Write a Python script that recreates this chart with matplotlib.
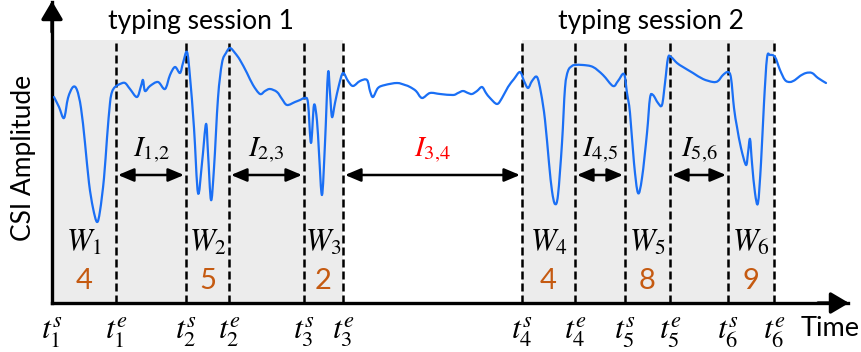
import matplotlib
matplotlib.use("Agg")
import matplotlib.pyplot as plt
import numpy as np
from matplotlib.path import Path
from matplotlib.patches import PathPatch

plt.rcParams['font.family'] = ['Lato', 'DejaVu Sans']
plt.rcParams['mathtext.fontset'] = 'stix'

# ---- data (time in arbitrary units, amplitude in arbitrary units) ----
sig_t = [54, 59, 64, 68, 73, 77, 81, 85, 89, 93, 97, 100, 104, 107, 110, 112, 115, 120, 125, 130, 137,
         141, 143, 145, 150, 158, 165, 170, 175, 180, 183, 187, 190, 194, 198, 202, 206, 208, 211, 214, 218,
         222, 226, 230, 235, 240, 247, 253, 260, 265, 270, 277, 282, 287, 295, 300, 305, 308, 311, 314, 317,
         319, 322, 325, 328, 330, 332, 335, 339, 343, 348, 353, 360, 367, 370, 373, 378, 385, 397, 405, 410,
         416, 422, 430, 440, 453, 458, 463, 468, 472, 477, 482, 486, 490, 497, 502, 508, 514, 520, 524, 528,
         532, 537, 541, 545, 549, 552, 555, 558, 562, 565, 568, 572, 575, 583, 593, 603, 613, 618, 624, 627,
         630, 634, 638, 642, 647, 650, 653, 658, 662, 665, 668, 671, 677, 683, 693, 703, 713, 718, 723, 728,
         731, 734, 737, 741, 746, 748, 750, 752, 755, 758, 761, 764, 767, 770, 775, 780, 785, 790, 795, 800,
         806, 812, 818, 826]
sig_a = [206, 196, 185, 205, 216, 213, 195, 160, 120, 95, 81, 92, 125, 165, 200, 211, 216, 219, 220, 214, 206,
         217, 223, 212, 217, 221, 214, 228, 236, 230, 240, 251, 226, 175, 110, 140, 179, 150, 103, 135, 205,
         240, 250, 255, 250, 243, 230, 218, 209, 212, 214, 211, 204, 198, 201, 203, 205, 200, 160, 198, 182,
         150, 108, 160, 230, 210, 186, 200, 218, 230, 222, 217, 222, 223, 212, 206, 215, 218, 220, 218, 216,
         212, 205, 210, 209, 208, 210, 212, 210, 209, 212, 216, 210, 205, 199, 205, 216, 224, 231, 222, 215,
         222, 226, 210, 183, 140, 112, 99, 108, 160, 215, 232, 237, 238, 238, 236, 228, 217, 222, 229, 210,
         190, 140, 110, 125, 170, 205, 208, 200, 198, 220, 245, 246, 240, 236, 230, 224, 221, 222, 228, 231,
         225, 195, 176, 155, 138, 150, 164, 140, 110, 100, 140, 200, 245, 248, 246, 233, 223, 221, 223, 227,
         230, 230, 225, 220]

win_start = [52, 186, 304, 522, 625, 728]
win_end = [116, 229, 343, 575, 670, 774]
sessions = [(52, 343), (522, 774)]
session_labels = ["typing session 1", "typing session 2"]
win_counts = ["4", "5", "2", "4", "8", "9"]
tick_pos = [52, 116, 186, 229, 304, 343, 522, 575, 625, 670, 728, 774]
tick_labels = [r"$t_1^s$", r"$t_1^e$", r"$t_2^s$", r"$t_2^e$", r"$t_3^s$", r"$t_3^e$",
               r"$t_4^s$", r"$t_4^e$", r"$t_5^s$", r"$t_5^e$", r"$t_6^s$", r"$t_6^e$"]

# ---- figure ----
W, H = 861, 352
fig = plt.figure(figsize=(W / 100, H / 100), dpi=100)
x0, x1 = 52, 848
ybot, ytop = 303, 2
ax = fig.add_axes([x0 / W, (H - ybot) / H, (x1 - x0) / W, (ybot - ytop) / H])
ax.set_xlim(x0, x1)
ax.set_ylim(0, ybot - ytop)
for s in ['top', 'right']:
    ax.spines[s].set_visible(False)
for s in ['left', 'bottom']:
    ax.spines[s].set_linewidth(2.4)
ax.tick_params(axis='y', left=False, labelleft=False)
ax.tick_params(axis='x', length=0, pad=9)
ax.set_xticks(tick_pos)
ax.set_xticklabels(tick_labels, fontsize=23)

# axis arrows
head = '-|>,head_length=1.1,head_width=0.65'
ax.annotate('', xy=(x0, ybot - ytop + 1), xytext=(x0, ybot - ytop - 30),
            arrowprops=dict(arrowstyle=head, color='black', lw=2.4, shrinkA=0, shrinkB=0),
            annotation_clip=False)
ax.annotate('', xy=(x1 + 1, 0), xytext=(x1 - 30, 0),
            arrowprops=dict(arrowstyle=head, color='black', lw=2.4, shrinkA=0, shrinkB=0),
            annotation_clip=False)

gray_top = ybot - 40
for (a, b) in sessions:
    ax.fill_between([a, b], 0, gray_top, color='#ececec', zorder=0, lw=0)

for xv in win_start[1:] + win_end:
    ax.plot([xv, xv], [0, gray_top], color='black', lw=1.8, ls=(0, (3.2, 1.6)), zorder=2)

# smooth rendering of the signal (Catmull-Rom drawn as cubic Bezier path)
P = np.column_stack([sig_t, sig_a]).astype(float)
Pe = np.vstack([P[0], P, P[-1]])
verts = [tuple(P[0])]
codes = [Path.MOVETO]
for i in range(1, len(Pe) - 2):
    p0, p1, p2, p3 = Pe[i - 1], Pe[i], Pe[i + 1], Pe[i + 2]
    c1 = p1 + (p2 - p0) / 6.0
    c2 = p2 - (p3 - p1) / 6.0
    verts += [tuple(c1), tuple(c2), tuple(p2)]
    codes += [Path.CURVE4] * 3
ax.add_patch(PathPatch(Path(verts, codes), fill=False, edgecolor='#1a6ff5', lw=1.6, zorder=3,
                       joinstyle='round', capstyle='round'))

# session labels
for (a, b), lab in zip(sessions, session_labels):
    ax.text((a + b) / 2 + 3, ybot - 22, lab, ha='center', va='center', fontsize=19)

# window labels
for i, (a, b) in enumerate(zip(win_start, win_end)):
    cx = (a + b) / 2
    ax.text(cx, ybot - 242, r"$W_{%d}$" % (i + 1), ha='center', va='center', fontsize=22)
    ax.text(cx, ybot - 281, win_counts[i], ha='center', va='center', fontsize=21, color='#c55a11')

# interval arrows
for i in range(5):
    a, b = win_end[i], win_start[i + 1]
    col = 'red' if i == 2 else 'black'
    ax.annotate('', xy=(b - 2, ybot - 175), xytext=(a + 2, ybot - 175),
                arrowprops=dict(arrowstyle='<|-|>,head_length=0.95,head_width=0.4', color='black', lw=1.8,
                                shrinkA=0, shrinkB=0))
    ax.text((a + b) / 2, ybot - 150, r"$I_{%d{,}%d}$" % (i + 1, i + 2), ha='center', va='center',
            fontsize=21, color=col)

# axis labels
fig.text(24 / W, 1 - 158 / H, "CSI Amplitude", rotation=90, ha='center', va='center', fontsize=19)
fig.text(830 / W, 1 - 328 / H, "Time", ha='center', va='center', fontsize=19.5)

fig.savefig("out.png", dpi=100)
